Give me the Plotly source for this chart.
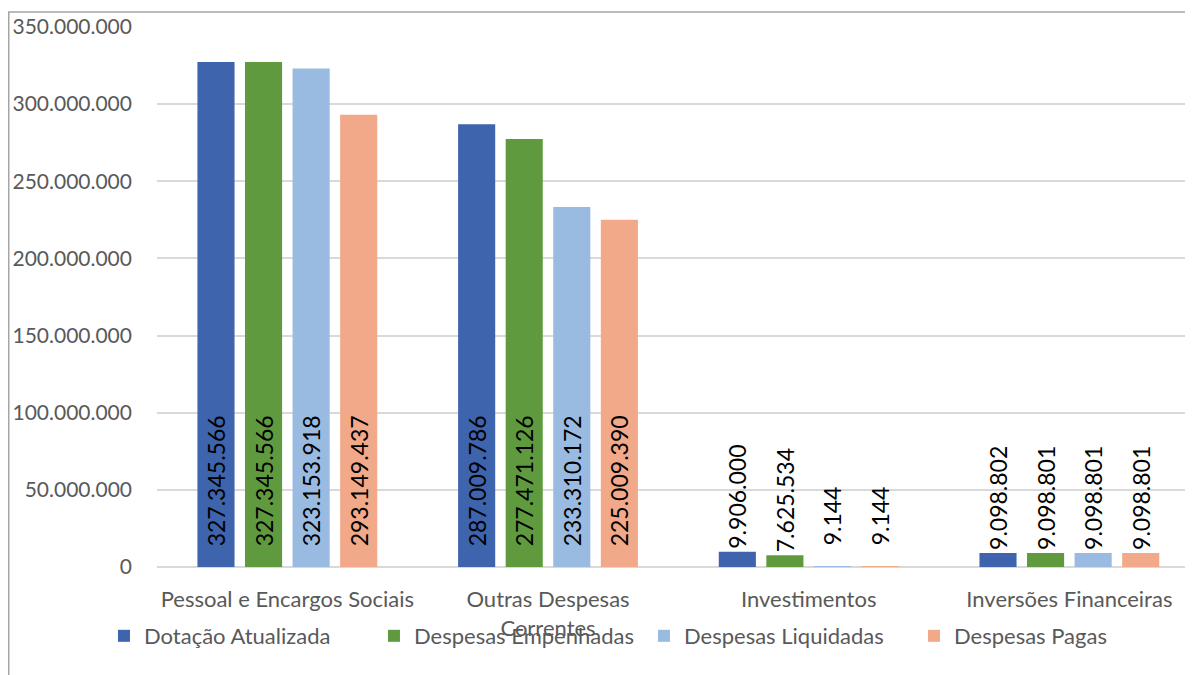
import plotly.graph_objects as go

categories = ["Pessoal e Encargos Sociais", "Outras Despesas<br>Correntes", "Investimentos", "Inversões Financeiras"]
series_names = ["Dotação Atualizada", "Despesas Empenhadas", "Despesas Liquidadas", "Despesas Pagas"]
dotacao = [327345566, 287009786, 9906000, 9098802]
empenhadas = [327345566, 277471126, 7625534, 9098801]
liquidadas = [323153918, 233310172, 9144, 9098801]
pagas = [293149437, 225009390, 9144, 9098801]
colors = ["#3E64AD", "#5F9B3E", "#9ABBE1", "#F1A98A"]
y_ticks = [0, 50000000, 100000000, 150000000, 200000000, 250000000, 300000000, 350000000]

FONT = "Lato"
NBSP = "\u00a0"


def fmt(v):
    return "{:,}".format(v).replace(",", ".")


fig = go.Figure()
for name, vals, col in zip(series_names, [dotacao, empenhadas, liquidadas, pagas], colors):
    pos = ["inside" if v > 30000000 else "outside" for v in vals]
    # labels sit at the bar base (Excel "inside base"), lifted slightly off the axis
    txt = [(NBSP * 3 if (v > 30000000 or v < 1000000) else "") + fmt(v) for v in vals]
    fig.add_trace(go.Bar(
        name=name, x=categories, y=vals, marker_color=col, marker_line_width=0,
        text=txt, textposition=pos, insidetextanchor="start", hoverinfo="x+y+name",
        textangle=-90, constraintext="none", cliponaxis=False,
        textfont=dict(family=FONT, size=23, color="#000000"),
    ))

fig.update_layout(
    width=1193, height=675, autosize=False,
    margin=dict(l=149, r=0, t=19, b=116, pad=0),
    paper_bgcolor="white", plot_bgcolor="white",
    barmode="group", bargap=0.27, bargroupgap=0.22,
    separators=",.",
    font=dict(family=FONT, color="#595959"),
    showlegend=True,
    legend=dict(orientation="h", x=-0.0508, xanchor="left", y=-0.1278, yanchor="middle",
                entrywidth=225, entrywidthmode="pixels",
                font=dict(family=FONT, size=22, color="#595959"), bgcolor="rgba(0,0,0,0)"),
    shapes=[dict(type="rect", xref="paper", yref="paper", x0=-0.142, x1=1.2, y0=-0.3, y1=1.0278,
                 line=dict(color="#A6A6A6", width=1.5), fillcolor="rgba(0,0,0,0)", layer="below")],
)
fig.update_xaxes(range=[-0.5, 3.505], showgrid=False, showline=False, ticks="",
                 tickfont=dict(family=FONT, size=22, color="#595959"), ticklabelstandoff=17)
fig.update_yaxes(range=[0, 350000000], tickvals=y_ticks, tickformat=",", showgrid=True,
                 gridcolor="#D9D9D9", gridwidth=1.5, zeroline=True, zerolinecolor="#D9D9D9", zerolinewidth=1.5,
                 showline=False, ticks="", tickfont=dict(family=FONT, size=21, color="#595959"),
                 ticklabelstandoff=24)
fig.write_html("out.html")
